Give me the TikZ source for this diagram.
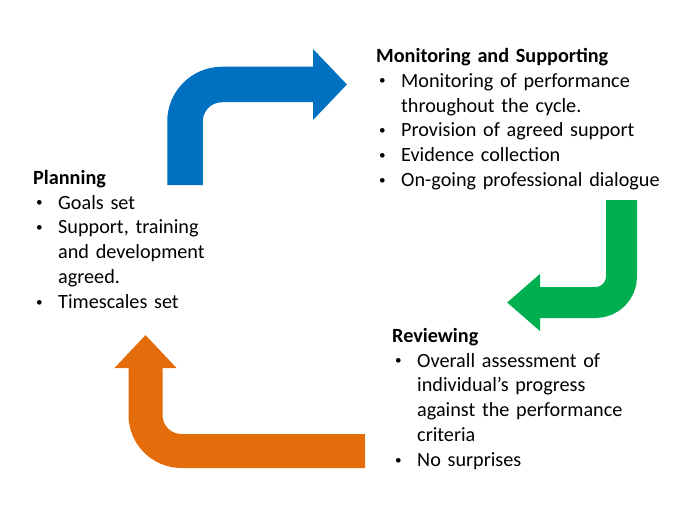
\documentclass[tikz,border=0pt]{standalone}
\usepackage{fontspec}
\setmainfont{Carlito}
\usepackage{graphicx}
\usepackage{tikz}
\usetikzlibrary{arrows.meta}

\definecolor{cycblue}{RGB}{0,112,192}
\definecolor{cycgreen}{RGB}{0,176,80}
\definecolor{cycorange}{RGB}{228,108,10}

\newcommand{\bl}[1]{\par\hangindent=25pt\hangafter=1\noindent\makebox[25pt][l]{\hspace{3pt}\raisebox{2.3pt}{\scalebox{0.65}{\textbullet}}}#1}

\tikzset{
  stage/.style={anchor=north west, inner sep=0pt, align=left, font=\fontsize{20.2pt}{24.8pt}\selectfont},
  bentarrow/.style={line cap=butt, line join=miter}
}

\begin{document}
\begin{tikzpicture}[x=1pt, y=-1pt]
\useasboundingbox (0,0) rectangle (684,513);

\coordinate (b1) at (185,185);
\coordinate (b2) at (347,84.5);
\coordinate (g1) at (621.5,200);
\coordinate (g2) at (507,302.5);
\coordinate (o1) at (365,451);
\coordinate (o2) at (145.5,335);

\draw[bentarrow, cycblue, line width=35.5pt, rounded corners=37pt, -{Triangle[width=69pt, length=34pt]}] (b1) |- (b2);
\draw[bentarrow, cycgreen, line width=31pt, rounded corners=26pt, -{Triangle[width=55pt, length=33pt]}] (g1) |- (g2);
\draw[bentarrow, cycorange, line width=34pt, rounded corners=36pt, -{Triangle[width=60pt, length=33pt]}] (o1) -| (o2);

\node[stage, text width=300pt] (monit) at (376,48) {
\textbf{Monitoring and Supporting}
\bl{Monitoring of performance\newline throughout the cycle.}
\bl{Provision of agreed support}
\bl{Evidence collection}
\bl{On-going professional dialogue}
};

\node[stage, text width=200pt] (plan) at (33,170) {
\textbf{Planning}
\bl{Goals set}
\bl{Support, training\newline and development\newline agreed.}
\bl{Timescales set}
};

\node[stage, text width=260pt] (review) at (392,328) {
\textbf{Reviewing}
\bl{Overall assessment of\newline individual’s progress\newline against the performance\newline criteria}
\bl{No surprises}
};
\end{tikzpicture}
\end{document}
